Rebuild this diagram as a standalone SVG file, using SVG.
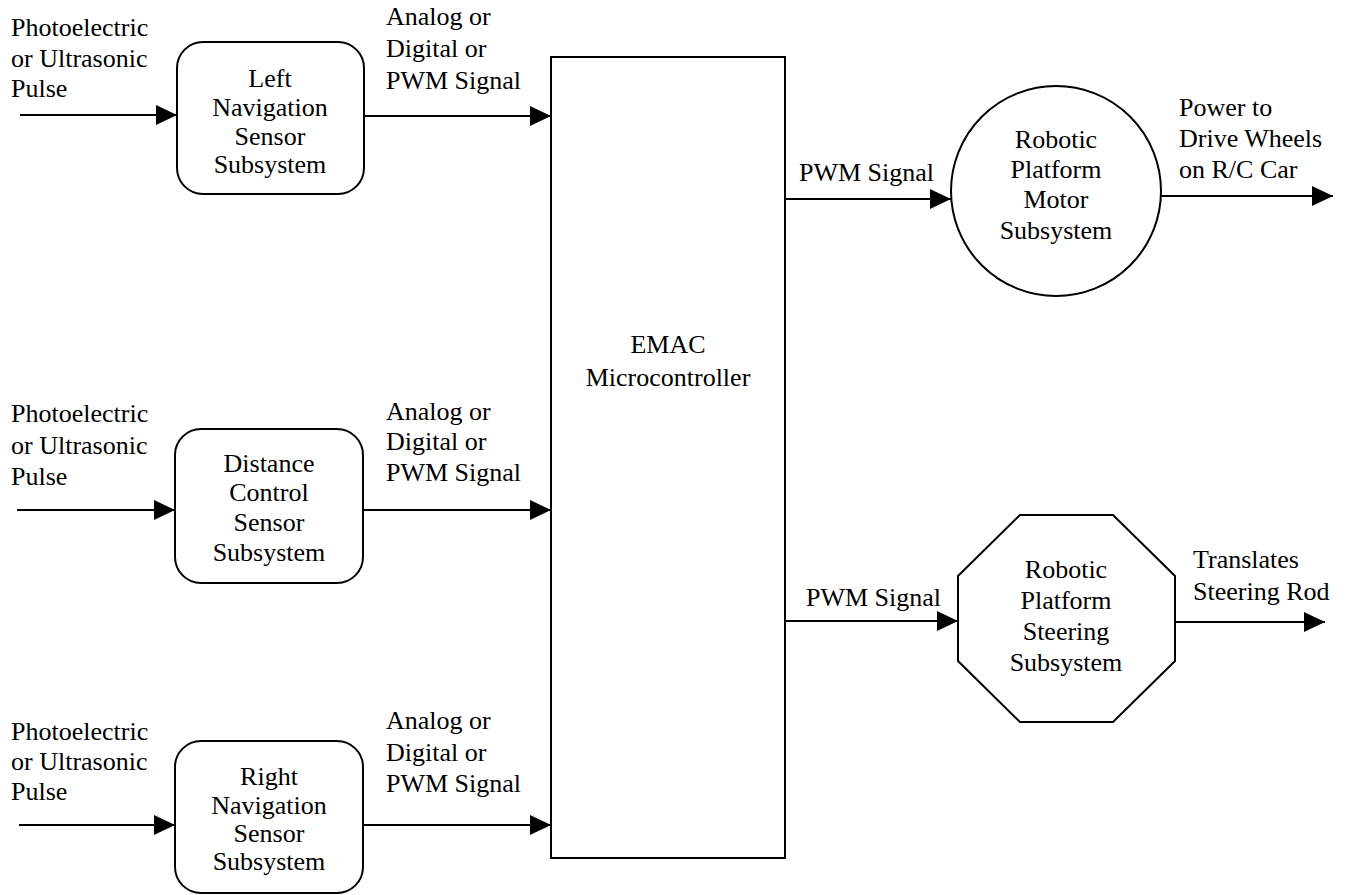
<svg xmlns="http://www.w3.org/2000/svg" width="1348" height="895" viewBox="0 0 1348 895">
<style>
.s{fill:#fff;stroke:#000;stroke-width:2}
.c{stroke:#000;stroke-width:2;fill:none}
text{font-family:'Liberation Serif','Times New Roman',Tinos,Times,'Noto Serif','Nimbus Roman','FreeSerif','DejaVu Serif',serif;font-size:26px;fill:#000}
.m{text-anchor:middle}
</style>
<defs>
<marker id="ah" viewBox="0 0 21 20" refX="21" refY="10" markerWidth="21" markerHeight="20" markerUnits="userSpaceOnUse" orient="auto">
<path d="M0,0 L21,10 L0,20 z" fill="#000"/>
</marker>
</defs>
<rect width="1348" height="895" fill="#fff"/>
<g id="connectors">
<line class="c" x1="20" y1="115" x2="177" y2="115" marker-end="url(#ah)"/>
<line class="c" x1="364" y1="116" x2="551" y2="116" marker-end="url(#ah)"/>
<line class="c" x1="17" y1="510" x2="175" y2="510" marker-end="url(#ah)"/>
<line class="c" x1="363" y1="510" x2="551" y2="510" marker-end="url(#ah)"/>
<line class="c" x1="19" y1="825" x2="175" y2="825" marker-end="url(#ah)"/>
<line class="c" x1="363" y1="825" x2="551" y2="825" marker-end="url(#ah)"/>
<line class="c" x1="785" y1="199" x2="951" y2="199" marker-end="url(#ah)"/>
<line class="c" x1="1161" y1="196" x2="1333" y2="196" marker-end="url(#ah)"/>
<line class="c" x1="785" y1="621" x2="958" y2="621" marker-end="url(#ah)"/>
<line class="c" x1="1175" y1="622" x2="1325" y2="622" marker-end="url(#ah)"/>
<text x="11" y="36">Photoelectric</text>
<text x="11" y="67">or Ultrasonic</text>
<text x="11" y="97">Pulse</text>
<text x="386" y="25">Analog or</text>
<text x="386" y="57">Digital or</text>
<text x="386" y="89">PWM Signal</text>
<text x="11" y="422">Photoelectric</text>
<text x="11" y="454">or Ultrasonic</text>
<text x="11" y="485">Pulse</text>
<text x="386" y="420">Analog or</text>
<text x="386" y="450">Digital or</text>
<text x="386" y="481">PWM Signal</text>
<text x="11" y="740">Photoelectric</text>
<text x="11" y="770">or Ultrasonic</text>
<text x="11" y="800">Pulse</text>
<text x="386" y="729">Analog or</text>
<text x="386" y="761">Digital or</text>
<text x="386" y="792">PWM Signal</text>
<text x="799" y="181">PWM Signal</text>
<text x="1179" y="116">Power to</text>
<text x="1179" y="147">Drive Wheels</text>
<text x="1179" y="178">on R/C Car</text>
<text x="806" y="606">PWM Signal</text>
<text x="1193" y="568">Translates</text>
<text x="1193" y="600">Steering Rod</text>
</g>
<g id="left-nav">
<rect class="s" x="177" y="42" width="187" height="152" rx="26"/>
<text class="m" x="270" y="87">Left</text>
<text class="m" x="270" y="116">Navigation</text>
<text class="m" x="270" y="145">Sensor</text>
<text class="m" x="270" y="173">Subsystem</text>
</g>
<g id="distance">
<rect class="s" x="175" y="429" width="188" height="154" rx="26"/>
<text class="m" x="269" y="472">Distance</text>
<text class="m" x="269" y="501">Control</text>
<text class="m" x="269" y="531">Sensor</text>
<text class="m" x="269" y="561">Subsystem</text>
</g>
<g id="right-nav">
<rect class="s" x="175" y="741" width="188" height="152" rx="26"/>
<text class="m" x="269" y="785">Right</text>
<text class="m" x="269" y="814">Navigation</text>
<text class="m" x="269" y="842">Sensor</text>
<text class="m" x="269" y="870">Subsystem</text>
</g>
<g id="emac">
<rect class="s" x="551" y="57" width="234" height="801"/>
<text class="m" x="668" y="353">EMAC</text>
<text class="m" x="668" y="386">Microcontroller</text>
</g>
<g id="motor">
<circle class="s" cx="1056" cy="191" r="105"/>
<text class="m" x="1056" y="148">Robotic</text>
<text class="m" x="1056" y="178">Platform</text>
<text class="m" x="1056" y="208">Motor</text>
<text class="m" x="1056" y="239">Subsystem</text>
</g>
<g id="steering">
<polygon class="s" points="1020,515 1113,515 1175,576 1175,661 1113,722 1020,722 958,661 958,576"/>
<text class="m" x="1066" y="578">Robotic</text>
<text class="m" x="1066" y="609">Platform</text>
<text class="m" x="1066" y="640">Steering</text>
<text class="m" x="1066" y="671">Subsystem</text>
</g>
</svg>
